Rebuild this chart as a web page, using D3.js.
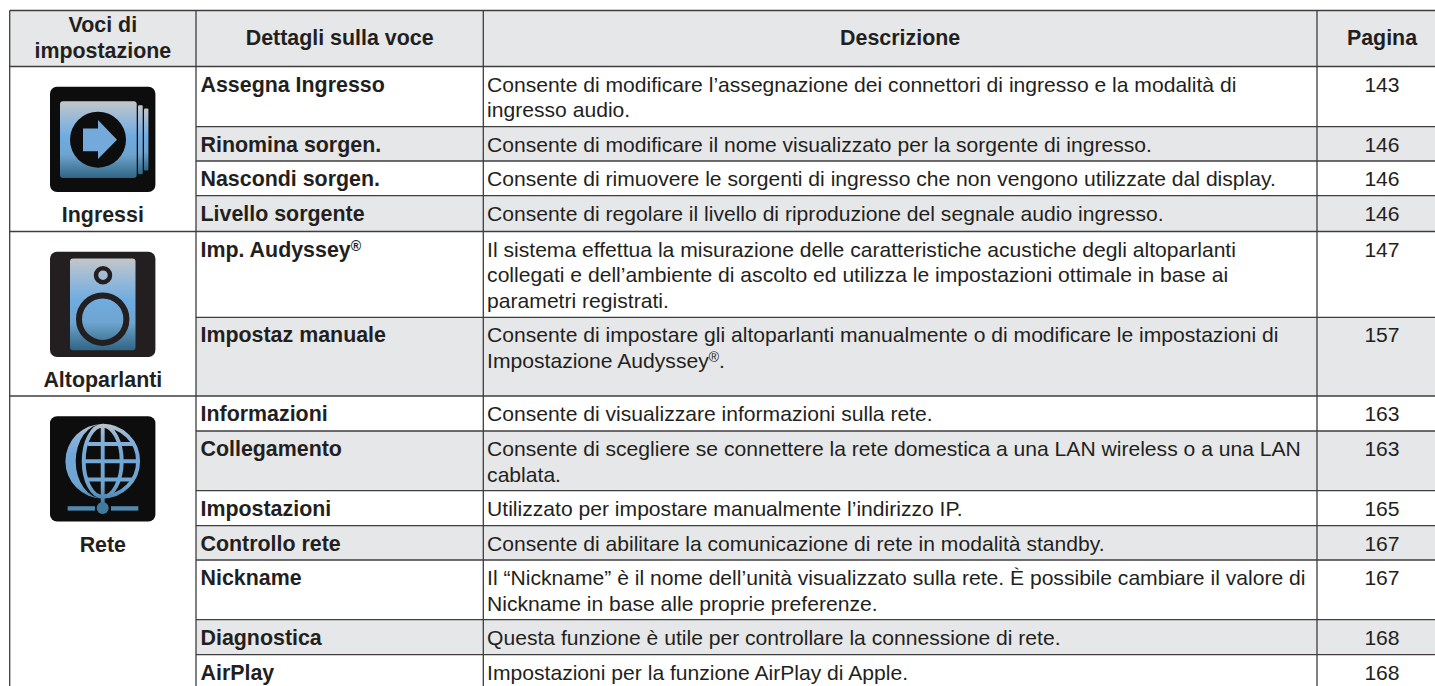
<!DOCTYPE html>
<html><head><meta charset="utf-8">
<script src="https://cdn.jsdelivr.net/npm/d3@7/dist/d3.min.js"></script>
<style>html,body{margin:0;padding:0;background:#fff;overflow:hidden}svg{display:block}text{font-family:"Liberation Sans",Arial,sans-serif;fill:#231f20}</style>
</head><body><div id="c"></div>
<script>
const headers=["Voci di|impostazione","Dettagli sulla voce","Descrizione","Pagina"];
const groups=["Ingressi","Altoparlanti","Rete"];
const groupRows=[4,2,7];
const voci=["Assegna Ingresso","Rinomina sorgen.","Nascondi sorgen.","Livello sorgente","Imp. Audyssey®","Impostaz manuale","Informazioni","Collegamento","Impostazioni","Controllo rete","Nickname","Diagnostica","AirPlay"];
const descr=[
"Consente di modificare l’assegnazione dei connettori di ingresso e la modalità di|ingresso audio.",
"Consente di modificare il nome visualizzato per la sorgente di ingresso.",
"Consente di rimuovere le sorgenti di ingresso che non vengono utilizzate dal display.",
"Consente di regolare il livello di riproduzione del segnale audio ingresso.",
"Il sistema effettua la misurazione delle caratteristiche acustiche degli altoparlanti|collegati e dell’ambiente di ascolto ed utilizza le impostazioni ottimale in base ai|parametri registrati.",
"Consente di impostare gli altoparlanti manualmente o di modificare le impostazioni di|Impostazione Audyssey®.",
"Consente di visualizzare informazioni sulla rete.",
"Consente di scegliere se connettere la rete domestica a una LAN wireless o a una LAN|cablata.",
"Utilizzato per impostare manualmente l’indirizzo IP.",
"Consente di abilitare la comunicazione di rete in modalità standby.",
"Il “Nickname” è il nome dell’unità visualizzato sulla rete. È possibile cambiare il valore di|Nickname in base alle proprie preferenze.",
"Questa funzione è utile per controllare la connessione di rete.",
"Impostazioni per la funzione AirPlay di Apple."];
const pagine=[143,146,146,146,147,157,163,163,165,167,167,168,168];
const rowBounds=[10.5,66.5,126.7,161,195.7,231.5,317.3,396,431,490.7,525.7,560,619.7,654.7,690];
const colBounds=[9.7,196,483.3,1317,1447];

const W=1435,H=686;
const svg=d3.select("#c").append("svg").attr("width",W).attr("height",H);
const x=d3.scaleLinear().domain(d3.range(colBounds.length)).range(colBounds);
const y=d3.scaleLinear().domain(d3.range(rowBounds.length)).range(rowBounds);
const defs=svg.append("defs");
const stops=[[0,"#c4c6c8"],[.2,"#9dbbd6"],[.45,"#70ace0"],[.7,"#6ea4d0"],[.85,"#4f84a8"],[1,"#2f6585"]];
const gr=defs.append("linearGradient").attr("id","blue").attr("x1",0).attr("y1",0).attr("x2",0).attr("y2",1);
stops.forEach(d=>gr.append("stop").attr("offset",d[0]).attr("stop-color",d[1]));
const gg=defs.append("linearGradient").attr("id","globe").attr("gradientUnits","userSpaceOnUse").attr("x1",0).attr("y1",6).attr("x2",0).attr("y2",96);
[[0,"#c4c6c8"],[.15,"#8db4d8"],[.35,"#72a8d8"],[.7,"#70a4d0"],[.85,"#4f88b0"],[1,"#3b7599"]].forEach(d=>gg.append("stop").attr("offset",d[0]).attr("stop-color",d[1]));
defs.append("clipPath").attr("id","gclip").append("circle").attr("cx",52.7).attr("cy",45).attr("r",36);

const shade="#e6e7e8";
svg.append("rect").attr("x",x(0)).attr("y",y(0)).attr("width",x(4)-x(0)).attr("height",y(1)-y(0)).attr("fill",shade);
voci.forEach((v,i)=>{ if(i%2==1) svg.append("rect").attr("x",x(1)).attr("y",y(i+1)).attr("width",x(4)-x(1)).attr("height",y(i+2)-y(i+1)).attr("fill",shade);});

const line=(a,b,c,d,col="#3f3d3e",w=1.3)=>svg.append("line").attr("x1",a).attr("y1",b).attr("x2",c).attr("y2",d).attr("stroke",col).attr("stroke-width",w);
const groupStart=[0];groupRows.forEach(n=>groupStart.push(groupStart[groupStart.length-1]+n));
d3.range(0,14).forEach(i=>{
  const isG=groupStart.includes(i-1)||i<=1;
  line(isG?x(0):x(1),y(i),x(4),y(i));
});
[0,1,2,3].forEach(c=>line(x(c),y(0),x(c),H));

const fs=21.1, fb=21.4, rowBase=25;
headers.forEach((h,c)=>{
  const ls=h.split("|"),cx=(x(c)+x(c+1))/2,cy=(y(0)+y(1))/2;
  ls.forEach((t,j)=>svg.append("text").attr("x",cx).attr("y",cy+6.3+(j-(ls.length-1)/2)*25.6).attr("text-anchor","middle").attr("font-weight","bold").attr("font-size",fb).text(t));
});
function sup(sel,t,size){
  const parts=t.split("®");
  sel.append("tspan").text(parts[0]);
  if(parts.length>1){
    sel.append("tspan").attr("dy",-6).attr("font-size",size*.66).text("®");
    if(parts[1]) sel.append("tspan").attr("dy",6).text(parts[1]);
  }
}
voci.forEach((v,i)=>{
  const t=svg.append("text").attr("x",x(1)+4.5).attr("y",y(i+1)+rowBase).attr("font-weight","bold").attr("font-size",fb);sup(t,v,fb);
  descr[i].split("|").forEach((l,j)=>{const d=svg.append("text").attr("x",x(2)+3.8).attr("y",y(i+1)+rowBase+j*25.7).attr("font-size",fs);sup(d,l,fs);});
  svg.append("text").attr("x",(x(3)+x(4))/2).attr("y",y(i+1)+rowBase).attr("text-anchor","middle").attr("font-size",fs).text(pagine[i]);
});
const S=105.4;
function icon(g,k){
  const dark=k==1?"#231f20":"#0d0d0d";
  g.append("rect").attr("width",S).attr("height",S).attr("rx",7).attr("fill",dark);
  const u="url(#blue)";
  if(k==0){
    g.append("rect").attr("x",94).attr("y",21.7).attr("width",4.4).attr("height",62).attr("rx",1).attr("fill",u);
    g.append("rect").attr("x",88).attr("y",18.5).attr("width",4.7).attr("height",69).attr("rx",1).attr("fill",u);
    g.append("rect").attr("x",10).attr("y",14.5).attr("width",76.7).attr("height",76.7).attr("rx",3).attr("fill",u);
    g.append("circle").attr("cx",48).attr("cy",53).attr("r",28).attr("fill",dark);
    g.append("path").attr("d","M33,41.7H48V33.4L67,53L48,72.3V64.5H33Z").attr("fill","#74aadb");
  } else if(k==1){
    g.append("rect").attr("x",20).attr("y",6.8).attr("width",65.5).attr("height",91.7).attr("rx",3).attr("fill",u);
    g.append("circle").attr("cx",53).attr("cy",23.5).attr("r",7).attr("fill","none").attr("stroke",dark).attr("stroke-width",4.5);
    g.append("circle").attr("cx",52.7).attr("cy",67.5).attr("r",23.7).attr("fill","none").attr("stroke",dark).attr("stroke-width",6);
  } else {
    const ug="url(#globe)";
    g.append("path").attr("d","M52.7,7.7A37.3,37.3 0 0 0 52.7,82.3A27,37.3 0 0 1 52.7,7.7Z").attr("fill",ug);
    const c=g.append("g").attr("fill","none").attr("stroke",ug).attr("stroke-width",3.9);
    c.append("path").attr("d","M52.7,9.6A35.4,35.4 0 0 1 52.7,80.4");
    c.append("ellipse").attr("cx",52.7).attr("cy",45).attr("rx",19).attr("ry",35.5);
    c.append("line").attr("x1",52.7).attr("x2",52.7).attr("y1",8).attr("y2",90);
    const h=g.append("g").attr("clip-path","url(#gclip)").attr("stroke",ug).attr("stroke-width",3.9);
    h.append("line").attr("x1",38).attr("x2",90).attr("y1",27.8).attr("y2",27.8);
    h.append("line").attr("x1",34).attr("x2",90).attr("y1",45.1).attr("y2",45.1);
    h.append("line").attr("x1",37).attr("x2",90).attr("y1",63.3).attr("y2",63.3);
    g.append("rect").attr("x",17.7).attr("y",90).attr("width",27.3).attr("height",4.4).attr("fill","#4f8aae");
    g.append("rect").attr("x",61).attr("y",90).attr("width",27.3).attr("height",4.4).attr("fill","#4f8aae");
    g.append("circle").attr("cx",52.7).attr("cy",91.8).attr("r",6).attr("fill","#3f7a9f");
  }
}
groups.forEach((n,k)=>{
  const top=y(groupStart[k]+1);
  const g=svg.append("g").attr("transform",`translate(50,${top+20.2})`);
  icon(g,k);
  svg.append("text").attr("x",(x(0)+x(1))/2).attr("y",top+155.6).attr("text-anchor","middle").attr("font-weight","bold").attr("font-size",fb).text(n);
});
</script></body></html>
